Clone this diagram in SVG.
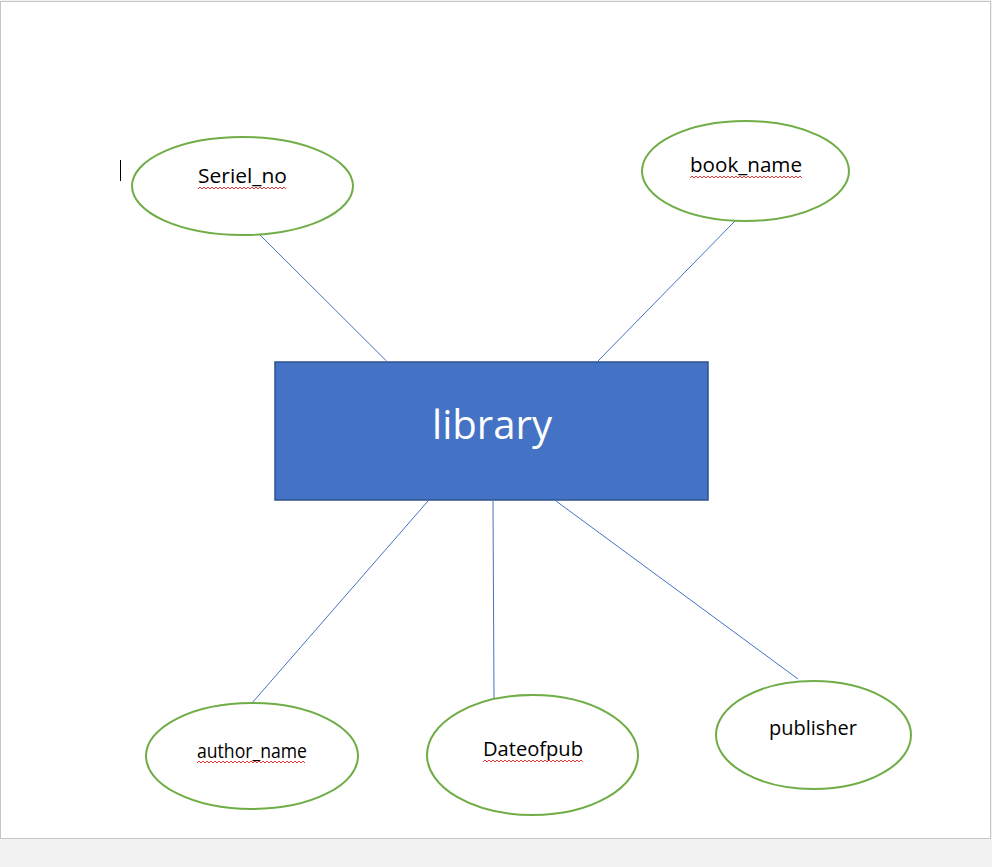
<svg xmlns="http://www.w3.org/2000/svg" width="992" height="867" viewBox="0 0 992 867">
<defs>
<style>
.attr{fill:#fff;stroke:#70ad47;stroke-width:2}
.lbl{font-family:"Open Sans","Liberation Sans",sans-serif;font-size:20px;fill:#000;text-anchor:middle}
.conn{stroke:#4472c4;stroke-width:1;fill:none}
.squig{stroke:#e02020;stroke-width:0.9;fill:none}
</style>
</defs>
<rect x="0" y="0" width="992" height="867" fill="#f2f2f2"/>
<rect x="0.5" y="1.5" width="990" height="837" fill="#fff" stroke="#c6c6c6" stroke-width="1"/>
<line x1="120.5" y1="160" x2="120.5" y2="181" stroke="#000" stroke-width="1"/>
<g id="connectors">
<line class="conn" x1="260" y1="235" x2="386.5" y2="361"/>
<line class="conn" x1="735" y1="221" x2="598" y2="361"/>
<line class="conn" x1="428" y1="501" x2="252" y2="703"/>
<line class="conn" x1="493" y1="501" x2="494" y2="698"/>
<line class="conn" x1="556" y1="501" x2="798" y2="679"/>
</g>
<g id="library">
<rect x="275" y="362" width="433" height="138" fill="#4472c4" stroke="#2f528f" stroke-width="1.5"/>
<text x="492" y="439" font-family="Open Sans,Liberation Sans,sans-serif" font-size="40" fill="#fff" text-anchor="middle" textLength="120" lengthAdjust="spacingAndGlyphs">library</text>
</g>
<g id="seriel_no">
<ellipse class="attr" cx="242.5" cy="186" rx="110.5" ry="49"/>
<text class="lbl" x="242.5" y="183" textLength="89" lengthAdjust="spacingAndGlyphs">Seriel_no</text>
<path class="squig" d="M198,189 l2,-2 2,2 2,-2 2,2 2,-2 2,2 2,-2 2,2 2,-2 2,2 2,-2 2,2 2,-2 2,2 2,-2 2,2 2,-2 2,2 2,-2 2,2 2,-2 2,2 2,-2 2,2 2,-2 2,2 2,-2 2,2 2,-2 2,2 2,-2 2,2 2,-2 2,2 2,-2 2,2 2,-2 2,2 2,-2 2,2 2,-2 2,2 2,-2 2,2"/>
</g>
<g id="book_name">
<ellipse class="attr" cx="745.5" cy="171" rx="103.5" ry="50"/>
<text class="lbl" x="746" y="172" textLength="112" lengthAdjust="spacingAndGlyphs">book_name</text>
<path class="squig" d="M690,178 l2,-2 2,2 2,-2 2,2 2,-2 2,2 2,-2 2,2 2,-2 2,2 2,-2 2,2 2,-2 2,2 2,-2 2,2 2,-2 2,2 2,-2 2,2 2,-2 2,2 2,-2 2,2 2,-2 2,2 2,-2 2,2 2,-2 2,2 2,-2 2,2 2,-2 2,2 2,-2 2,2 2,-2 2,2 2,-2 2,2 2,-2 2,2 2,-2 2,2 2,-2 2,2 2,-2 2,2 2,-2 2,2 2,-2 2,2 2,-2 2,2 2,-2 2,2"/>
</g>
<g id="author_name">
<ellipse class="attr" cx="252" cy="756" rx="106" ry="53"/>
<text class="lbl" x="252" y="758" font-size="18" textLength="110" lengthAdjust="spacingAndGlyphs">author_name</text>
<path class="squig" d="M197,763 l2,-2 2,2 2,-2 2,2 2,-2 2,2 2,-2 2,2 2,-2 2,2 2,-2 2,2 2,-2 2,2 2,-2 2,2 2,-2 2,2 2,-2 2,2 2,-2 2,2 2,-2 2,2 2,-2 2,2 2,-2 2,2 2,-2 2,2 2,-2 2,2 2,-2 2,2 2,-2 2,2 2,-2 2,2 2,-2 2,2 2,-2 2,2 2,-2 2,2 2,-2 2,2 2,-2 2,2 2,-2 2,2 2,-2 2,2 2,-2 2,2"/>
</g>
<g id="dateofpub">
<ellipse class="attr" cx="532.5" cy="755" rx="105.5" ry="60"/>
<text class="lbl" x="533" y="756" textLength="100" lengthAdjust="spacingAndGlyphs">Dateofpub</text>
<path class="squig" d="M483,762 l2,-2 2,2 2,-2 2,2 2,-2 2,2 2,-2 2,2 2,-2 2,2 2,-2 2,2 2,-2 2,2 2,-2 2,2 2,-2 2,2 2,-2 2,2 2,-2 2,2 2,-2 2,2 2,-2 2,2 2,-2 2,2 2,-2 2,2 2,-2 2,2 2,-2 2,2 2,-2 2,2 2,-2 2,2 2,-2 2,2 2,-2 2,2 2,-2 2,2 2,-2 2,2 2,-2 2,2 2,-2 2,2"/>
</g>
<g id="publisher">
<ellipse class="attr" cx="813.5" cy="735" rx="97.5" ry="54"/>
<text class="lbl" x="813" y="735" textLength="88" lengthAdjust="spacingAndGlyphs">publisher</text>
</g>
</svg>
